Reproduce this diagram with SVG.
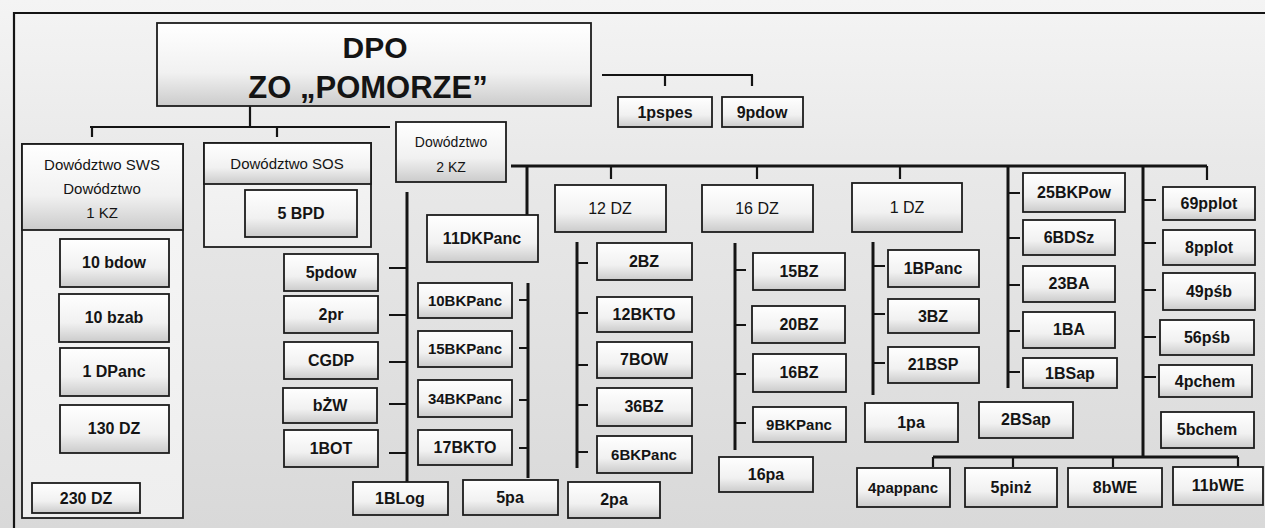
<svg xmlns="http://www.w3.org/2000/svg" width="1265" height="528" viewBox="0 0 1265 528">
<defs>
<linearGradient id="bg" x1="0" y1="0" x2="0" y2="1">
<stop offset="0" stop-color="#f4f4f4"/>
<stop offset="0.3" stop-color="#e9e9e9"/>
<stop offset="1" stop-color="#d9d9d9"/>
</linearGradient>
<linearGradient id="bx" x1="0" y1="0" x2="0" y2="1">
<stop offset="0" stop-color="#ffffff"/>
<stop offset="0.6" stop-color="#f1f1f1"/>
<stop offset="1" stop-color="#cbcbcb"/>
</linearGradient>
<linearGradient id="pl" x1="0" y1="0" x2="0" y2="1">
<stop offset="0" stop-color="#f6f6f6"/>
<stop offset="1" stop-color="#eeeeee"/>
</linearGradient>
</defs>
<style>
.b{fill:url(#bx);stroke:#1c1c1c;stroke-width:1.8}
.p{fill:url(#pl);stroke:#1c1c1c;stroke-width:1.8}
.t{font-family:"Liberation Sans",Arial,sans-serif;font-size:16px;fill:#141414;text-anchor:middle}
.k{font-weight:bold}
.c{stroke:#141414;stroke-width:2.2;fill:none}
.h{stroke:#141414;stroke-width:3;fill:none}
</style>
<rect width="1265" height="528" fill="url(#bg)"/>
<path d="M14 528 V13 H1265" stroke="#141414" stroke-width="2.2" fill="none"/>

<g id="connectors">
<path class="c" d="M250 106 V127 M90 127 H390 M92 127 V137 M277 127 V137"/>
<path class="c" d="M602 75 H753 M665 75 V86 M752 75 V86"/>
<path class="h" d="M511 166 H1207"/>
<path class="c" d="M611 166 V179 M757 166 V179 M900 166 V179 M1207 166 V180"/>
<path class="h" d="M527 166 V215 M528 283 V478"/>
<path class="c" d="M519 300 H528 M519 348 H528 M519 400 H528 M519 448 H528"/>
<path class="h" d="M407 192 V483"/>
<path class="c" d="M389 268 H407 M389 315 H407 M389 362 H407 M389 404 H407 M389 453 H407"/>
<path class="c" d="M45 232 V455 M39 266 H58 M39 318 H58 M39 372 H58 M39 429 H58"/>
<path class="c" d="M233 193 V228 H245"/>
<path class="h" d="M577 242 V468"/>
<path class="c" d="M577 263 H588 M577 313 H588 M577 365 H588 M577 405 H588 M577 452 H588"/>
<path class="h" d="M735 243 V450"/>
<path class="c" d="M735 270 H746 M735 325 H746 M735 374 H746 M735 423 H746"/>
<path class="h" d="M873 242 V395"/>
<path class="c" d="M873 266 H885 M873 314 H885 M873 363 H885"/>
<path class="h" d="M1008 166 V388"/>
<path class="c" d="M1008 193 H1020 M1008 238 H1020 M1008 285 H1020 M1008 331 H1020 M1008 372 H1020"/>
<path class="h" d="M1143 166 V457"/>
<path class="c" d="M1143 200 H1156 M1143 243 H1156 M1143 290 H1156 M1143 337 H1156 M1143 377 H1156"/>
<path class="h" d="M933 457 H1238"/>
<path class="c" d="M933 457 V467 M1013 457 V467 M1113 457 V467 M1238 457 V467"/>
</g>

<g id="dpo">
<rect class="b" x="157" y="23" width="434" height="83"/>
<text class="t k" x="375" y="58" style="font-size:30px">DPO</text>
<text class="t k" x="368" y="98" style="font-size:31px">ZO „POMORZE”</text>
</g>
<g id="n1pspes"><rect class="b" x="618" y="97" width="94" height="30"/><text class="t k" x="665" y="118">1pspes</text></g>
<g id="n9pdow"><rect class="b" x="722" y="97" width="81" height="30"/><text class="t k" x="762" y="118">9pdow</text></g>

<g id="sws">
<rect class="p" x="22" y="144" width="161" height="374"/>
<rect class="b" x="22" y="144" width="161" height="86"/>
<text class="t" x="102" y="170" style="font-size:15px">Dowództwo SWS</text>
<text class="t" x="102" y="194" style="font-size:15px">Dowództwo</text>
<text class="t" x="102" y="218" style="font-size:15px">1 KZ</text>
</g>
<g id="n10bdow"><rect class="b" x="60" y="239" width="109" height="48"/><text class="t k" x="114" y="268">10 bdow</text></g>
<g id="n10bzab"><rect class="b" x="59" y="294" width="110" height="48"/><text class="t k" x="114" y="323">10 bzab</text></g>
<g id="n1dpanc"><rect class="b" x="60" y="348" width="109" height="48"/><text class="t k" x="114" y="377">1 DPanc</text></g>
<g id="n130dz"><rect class="b" x="60" y="405" width="109" height="48"/><text class="t k" x="114" y="434">130 DZ</text></g>
<g id="n230dz"><rect class="b" x="32" y="483" width="108" height="30"/><text class="t k" x="86" y="504">230 DZ</text></g>

<g id="sos">
<rect class="p" x="204" y="143" width="167" height="104"/>
<rect class="b" x="204" y="143" width="167" height="41"/>
<text class="t" x="287" y="169" style="font-size:15px">Dowództwo SOS</text>
</g>
<g id="n5bpd"><rect class="b" x="245" y="190" width="112" height="47"/><text class="t k" x="301" y="219">5 BPD</text></g>

<g id="kz2">
<rect class="b" x="396" y="122" width="110" height="60"/>
<text class="t" x="451" y="147" style="font-size:14px">Dowództwo</text>
<text class="t" x="451" y="172" style="font-size:14px">2 KZ</text>
</g>
<g id="n5pdow"><rect class="b" x="284" y="254" width="94" height="37"/><text class="t k" x="331" y="278">5pdow</text></g>
<g id="n2pr"><rect class="b" x="284" y="296" width="94" height="37"/><text class="t k" x="331" y="320">2pr</text></g>
<g id="ncgdp"><rect class="b" x="284" y="342" width="94" height="37"/><text class="t k" x="331" y="366">CGDP</text></g>
<g id="nbzw"><rect class="b" x="283" y="388" width="94" height="35"/><text class="t k" x="330" y="411">bŻW</text></g>
<g id="n1bot"><rect class="b" x="284" y="430" width="94" height="37"/><text class="t k" x="331" y="454">1BOT</text></g>
<g id="n1blog"><rect class="b" x="353" y="482" width="95" height="33"/><text class="t k" x="400" y="504">1BLog</text></g>
<g id="n11dkpanc"><rect class="b" x="427" y="215" width="111" height="47"/><text class="t k" x="482" y="244">11DKPanc</text></g>
<g id="n10bkpanc"><rect class="b" x="418" y="283" width="94" height="35"/><text class="t k" x="465" y="306" style="font-size:15px">10BKPanc</text></g>
<g id="n15bkpanc"><rect class="b" x="418" y="331" width="94" height="36"/><text class="t k" x="465" y="354" style="font-size:15px">15BKPanc</text></g>
<g id="n34bkpanc"><rect class="b" x="418" y="380" width="94" height="37"/><text class="t k" x="465" y="404" style="font-size:15px">34BKPanc</text></g>
<g id="n17bkto"><rect class="b" x="418" y="430" width="94" height="35"/><text class="t k" x="465" y="453">17BKTO</text></g>
<g id="n5pa"><rect class="b" x="463" y="480" width="95" height="35"/><text class="t k" x="510" y="503">5pa</text></g>
<g id="n2pa"><rect class="b" x="568" y="482" width="92" height="36"/><text class="t k" x="614" y="505">2pa</text></g>

<g id="n12dz"><rect class="b" x="555" y="185" width="111" height="47"/><text class="t" x="610" y="214">12 DZ</text></g>
<g id="n2bz"><rect class="b" x="597" y="243" width="95" height="37"/><text class="t k" x="644" y="267">2BZ</text></g>
<g id="n12bkto"><rect class="b" x="597" y="297" width="95" height="35"/><text class="t k" x="644" y="320">12BKTO</text></g>
<g id="n7bow"><rect class="b" x="597" y="342" width="95" height="36"/><text class="t k" x="644" y="365">7BOW</text></g>
<g id="n36bz"><rect class="b" x="597" y="388" width="95" height="38"/><text class="t k" x="644" y="412">36BZ</text></g>
<g id="n6bkpanc"><rect class="b" x="597" y="436" width="95" height="37"/><text class="t k" x="644" y="460" style="font-size:15px">6BKPanc</text></g>

<g id="n16dz"><rect class="b" x="702" y="185" width="111" height="47"/><text class="t" x="757" y="214">16 DZ</text></g>
<g id="n15bz"><rect class="b" x="753" y="253" width="92" height="37"/><text class="t k" x="799" y="277">15BZ</text></g>
<g id="n20bz"><rect class="b" x="752" y="306" width="93" height="37"/><text class="t k" x="799" y="330">20BZ</text></g>
<g id="n16bz"><rect class="b" x="753" y="354" width="93" height="38"/><text class="t k" x="799" y="378">16BZ</text></g>
<g id="n9bkpanc"><rect class="b" x="753" y="407" width="93" height="35"/><text class="t k" x="799" y="430" style="font-size:15px">9BKPanc</text></g>
<g id="n16pa"><rect class="b" x="719" y="457" width="94" height="35"/><text class="t k" x="766" y="480">16pa</text></g>

<g id="n1dz"><rect class="b" x="852" y="183" width="110" height="49"/><text class="t" x="907" y="213">1 DZ</text></g>
<g id="n1bpanc"><rect class="b" x="888" y="250" width="91" height="37"/><text class="t k" x="933" y="274">1BPanc</text></g>
<g id="n3bz"><rect class="b" x="888" y="299" width="91" height="34"/><text class="t k" x="933" y="322">3BZ</text></g>
<g id="n21bsp"><rect class="b" x="888" y="347" width="91" height="36"/><text class="t k" x="933" y="370">21BSP</text></g>
<g id="n1pa"><rect class="b" x="865" y="403" width="93" height="39"/><text class="t k" x="911" y="428">1pa</text></g>
<g id="n2bsap"><rect class="b" x="979" y="402" width="94" height="36"/><text class="t k" x="1026" y="425">2BSap</text></g>

<g id="n25bkpow"><rect class="b" x="1023" y="173" width="102" height="39"/><text class="t k" x="1074" y="198">25BKPow</text></g>
<g id="n6bdsz"><rect class="b" x="1023" y="220" width="92" height="35"/><text class="t k" x="1069" y="243">6BDSz</text></g>
<g id="n23ba"><rect class="b" x="1023" y="266" width="92" height="36"/><text class="t k" x="1069" y="289">23BA</text></g>
<g id="n1ba"><rect class="b" x="1023" y="312" width="92" height="36"/><text class="t k" x="1069" y="335">1BA</text></g>
<g id="n1bsap"><rect class="b" x="1023" y="358" width="94" height="30"/><text class="t k" x="1070" y="379">1BSap</text></g>

<g id="n69pplot"><rect class="b" x="1163" y="187" width="92" height="33"/><text class="t k" x="1209" y="209">69pplot</text></g>
<g id="n8pplot"><rect class="b" x="1163" y="230" width="92" height="35"/><text class="t k" x="1209" y="253">8pplot</text></g>
<g id="n49psb"><rect class="b" x="1163" y="273" width="92" height="37"/><text class="t k" x="1209" y="297">49pśb</text></g>
<g id="n56psb"><rect class="b" x="1160" y="320" width="94" height="35"/><text class="t k" x="1207" y="343">56pśb</text></g>
<g id="n4pchem"><rect class="b" x="1159" y="365" width="93" height="32"/><text class="t k" x="1205" y="387">4pchem</text></g>
<g id="n5bchem"><rect class="b" x="1161" y="412" width="93" height="36"/><text class="t k" x="1207" y="435">5bchem</text></g>

<g id="n4pappanc"><rect class="b" x="857" y="468" width="93" height="39"/><text class="t k" x="903" y="493" style="font-size:15px">4pappanc</text></g>
<g id="n5pinz"><rect class="b" x="965" y="468" width="92" height="39"/><text class="t k" x="1011" y="493">5pinż</text></g>
<g id="n8bwe"><rect class="b" x="1068" y="468" width="94" height="39"/><text class="t k" x="1115" y="493">8bWE</text></g>
<g id="n11bwe"><rect class="b" x="1173" y="467" width="90" height="38"/><text class="t k" x="1218" y="491">11bWE</text></g>
</svg>
